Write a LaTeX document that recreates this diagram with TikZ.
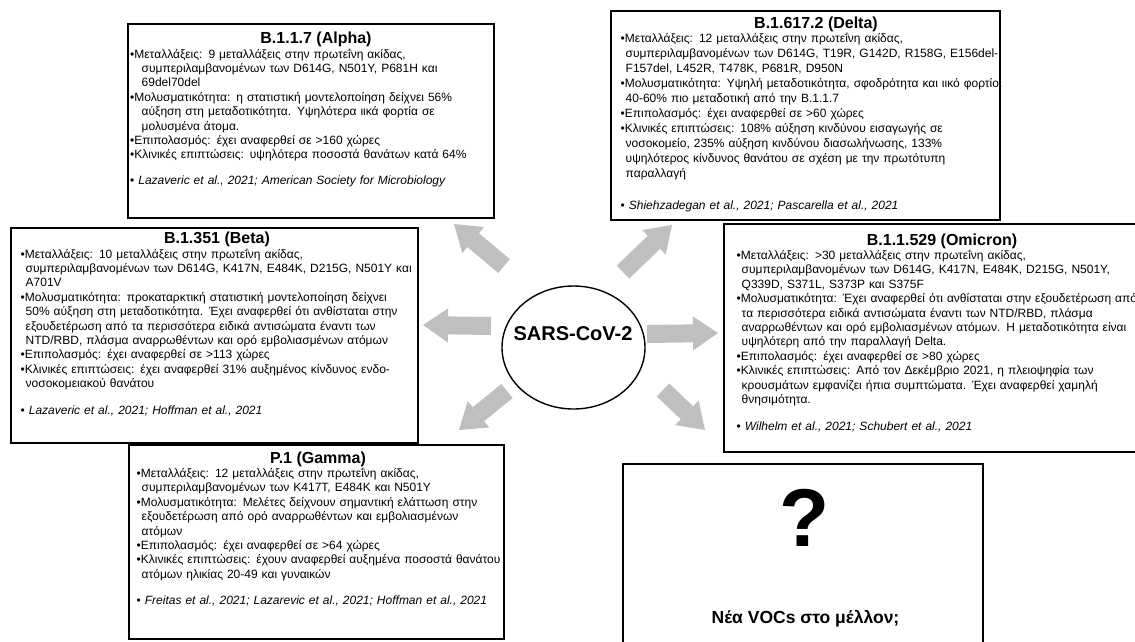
\documentclass[tikz,border=0pt]{standalone}
\usepackage{fontspec}
\setmainfont{Liberation Sans}
\usetikzlibrary{arrows.meta,calc,positioning,shapes.geometric}
\definecolor{arrowgray}{RGB}{191,191,191}
\newcommand{\vitem}[2][5pt]{\hangindent=#1\hangafter=1\strut\textbullet#2\par}
\newcommand{\vcite}[2][11pt]{\vspace{#1}\strut\textbullet\ \textit{#2}\par}

\begin{document}
\begin{tikzpicture}[x=1pt,y=-1pt,
varbox/.style={draw,line width=1.7pt,anchor=north west,inner sep=0pt},
vtitle/.style={anchor=base,inner sep=0pt,font=\fontsize{16}{19}\selectfont\bfseries},
vbody/.style={anchor=base west,inner sep=0pt,text width=450pt,align=left,font=\fontsize{12}{14.4}\selectfont},
bigarrow/.style={line width=18pt,color=arrowgray,-{Triangle[length=25pt,width=34pt,line width=0pt]}}]
\useasboundingbox (0,0) rectangle (1135,641);
\clip (0,0) rectangle (1135,641);

% centre
\node[draw,ellipse,line width=1.4pt,inner sep=0pt,minimum width=143pt,minimum height=123pt] (sars) at (573.5,347.5) {};
\node[font=\fontsize{20}{24}\selectfont\bfseries,anchor=base,inner sep=0pt] (sarstext) at (573,340) {SARS-CoV-2};

% B.1.1.7
\node[varbox,minimum width=366pt,minimum height=194pt] (alpha) at (127,23) {};
\node[vtitle] (alphatitle) at (316,43) {B.1.1.7 (Alpha)};
\node[vbody] (alphatext) at (130,58) {%
\vitem[11.5pt]{Μεταλλάξεις: 9 μεταλλάξεις στην πρωτεΐνη ακίδας,\newline συμπεριλαμβανομένων των D614G, N501Y, P681H και\newline 69del70del}
\vitem[11.5pt]{Μολυσματικότητα: η στατιστική μοντελοποίηση δείχνει 56\%\newline αύξηση στη μεταδοτικότητα. Υψηλότερα ιικά φορτία σε\newline μολυσμένα άτομα.}
\vitem{Επιπολασμός: έχει αναφερθεί σε >160 χώρες}
\vitem{Κλινικές επιπτώσεις: υψηλότερα ποσοστά θανάτων κατά 64\%}
\vcite{Lazaveric et al., 2021; American Society for Microbiology}};

% B.1.617.2
\node[varbox,minimum width=389pt,minimum height=209pt] (delta) at (610,10) {};
\node[vtitle] (deltatitle) at (816,28) {B.1.617.2 (Delta)};
\node[vbody,font=\fontsize{12}{15}\selectfont] (deltatext) at (620.5,42.5) {%
\vitem{Μεταλλάξεις: 12 μεταλλάξεις στην πρωτεΐνη ακίδας,\newline συμπεριλαμβανομένων των D614G, T19R, G142D, R158G, E156del-\newline F157del, L452R, T478K, P681R, D950N}
\vitem{Μολυσματικότητα: Υψηλή μεταδοτικότητα, σφοδρότητα και ιικό φορτίο.\newline 40-60\% πιο μεταδοτική από την B.1.1.7}
\vitem{Επιπολασμός: έχει αναφερθεί σε >60 χώρες}
\vitem{Κλινικές επιπτώσεις: 108\% αύξηση κινδύνου εισαγωγής σε\newline νοσοκομείο, 235\% αύξηση κινδύνου διασωλήνωσης, 133\%\newline υψηλότερος κίνδυνος θανάτου σε σχέση με την πρωτότυπη\newline παραλλαγή}
\vcite[17pt]{Shiehzadegan et al., 2021; Pascarella et al., 2021}};

% B.1.351
\node[varbox,minimum width=407pt,minimum height=215pt] (beta) at (10,227) {};
\node[vtitle] (betatitle) at (217,243) {B.1.351 (Beta)};
\node[vbody] (betatext) at (20.5,258) {%
\vitem{Μεταλλάξεις: 10 μεταλλάξεις στην πρωτεΐνη ακίδας,\newline συμπεριλαμβανομένων των D614G, K417N, E484K, D215G, N501Y και\newline A701V}
\vitem{Μολυσματικότητα: προκαταρκτική στατιστική μοντελοποίηση δείχνει\newline 50\% αύξηση στη μεταδοτικότητα. Έχει αναφερθεί ότι ανθίσταται στην\newline εξουδετέρωση από τα περισσότερα ειδικά αντισώματα έναντι των\newline NTD/RBD, πλάσμα αναρρωθέντων και ορό εμβολιασμένων ατόμων}
\vitem{Επιπολασμός: έχει αναφερθεί σε >113 χώρες}
\vitem{Κλινικές επιπτώσεις: έχει αναφερθεί 31\% αυξημένος κίνδυνος ενδο-\newline νοσοκομειακού θανάτου}
\vcite[12.5pt]{Lazaveric et al., 2021; Hoffman et al., 2021}};

% B.1.1.529
\node[varbox,minimum width=427pt,minimum height=228pt] (omicron) at (723,223) {};
\node[vtitle] (omicrontitle) at (942,245) {B.1.1.529 (Omicron)};
\node[vbody] (omicrontext) at (736.5,259.5) {%
\vitem{Μεταλλάξεις: >30 μεταλλάξεις στην πρωτεΐνη ακίδας,\newline συμπεριλαμβανομένων των D614G, K417N, E484K, D215G, N501Y,\newline Q339D, S371L, S373P και S375F}
\vitem{Μολυσματικότητα: Έχει αναφερθεί ότι ανθίσταται στην εξουδετέρωση από\newline τα περισσότερα ειδικά αντισώματα έναντι των NTD/RBD, πλάσμα\newline αναρρωθέντων και ορό εμβολιασμένων ατόμων. Η μεταδοτικότητα είναι\newline υψηλότερη από την παραλλαγή Delta.}
\vitem{Επιπολασμός: έχει αναφερθεί σε >80 χώρες}
\vitem{Κλινικές επιπτώσεις: Από τον Δεκέμβριο 2021, η πλειοψηφία των\newline κρουσμάτων εμφανίζει ήπια συμπτώματα. Έχει αναφερθεί χαμηλή\newline θνησιμότητα.}
\vcite[12.5pt]{Wilhelm et al., 2021; Schubert et al., 2021}};

% P.1
\node[varbox,minimum width=375pt,minimum height=194pt] (gamma) at (128,444) {};
\node[vtitle] (gammatitle) at (318,463) {P.1 (Gamma)};
\node[vbody] (gammatext) at (136.5,477.5) {%
\vitem{Μεταλλάξεις: 12 μεταλλάξεις στην πρωτεΐνη ακίδας,\newline συμπεριλαμβανομένων των K417T, E484K και N501Y}
\vitem{Μολυσματικότητα: Μελέτες δείχνουν σημαντική ελάττωση στην\newline εξουδετέρωση από ορό αναρρωθέντων και εμβολιασμένων\newline ατόμων}
\vitem{Επιπολασμός: έχει αναφερθεί σε >64 χώρες}
\vitem{Κλινικές επιπτώσεις: έχουν αναφερθεί αυξημένα ποσοστά θανάτου\newline ατόμων ηλικίας 20-49 και γυναικών}
\vcite[11.5pt]{Freitas et al., 2021; Lazarevic et al., 2021; Hoffman et al., 2021}};

% future
\node[varbox,minimum width=360pt,minimum height=202pt] (future) at (622,463) {};
\node[font=\fontsize{82}{90}\selectfont\bfseries,inner sep=0pt] (qmark) at (805,518) {?};
\node[font=\fontsize{17.5}{21}\selectfont\bfseries,anchor=base,inner sep=0pt] (futuretext) at (805.5,623) {Νέα VOCs στο μέλλον;};

% arrows
\coordinate (ul1) at (504,266); \coordinate (ul2) at (454,224);
\coordinate (ur1) at (623,272); \coordinate (ur2) at (672,225);
\coordinate (l1) at (491,326);  \coordinate (l2) at (423,325);
\coordinate (r1) at (647,334);  \coordinate (r2) at (718,333);
\coordinate (ll1) at (507,391); \coordinate (ll2) at (459,430);
\coordinate (lr1) at (663,390); \coordinate (lr2) at (705,430);
\draw[bigarrow] (ul1) -- (ul2);
\draw[bigarrow] (ur1) -- (ur2);
\draw[bigarrow] (l1) -- (l2);
\draw[bigarrow] (r1) -- (r2);
\draw[bigarrow] (ll1) -- (ll2);
\draw[bigarrow] (lr1) -- (lr2);
\end{tikzpicture}
\end{document}
